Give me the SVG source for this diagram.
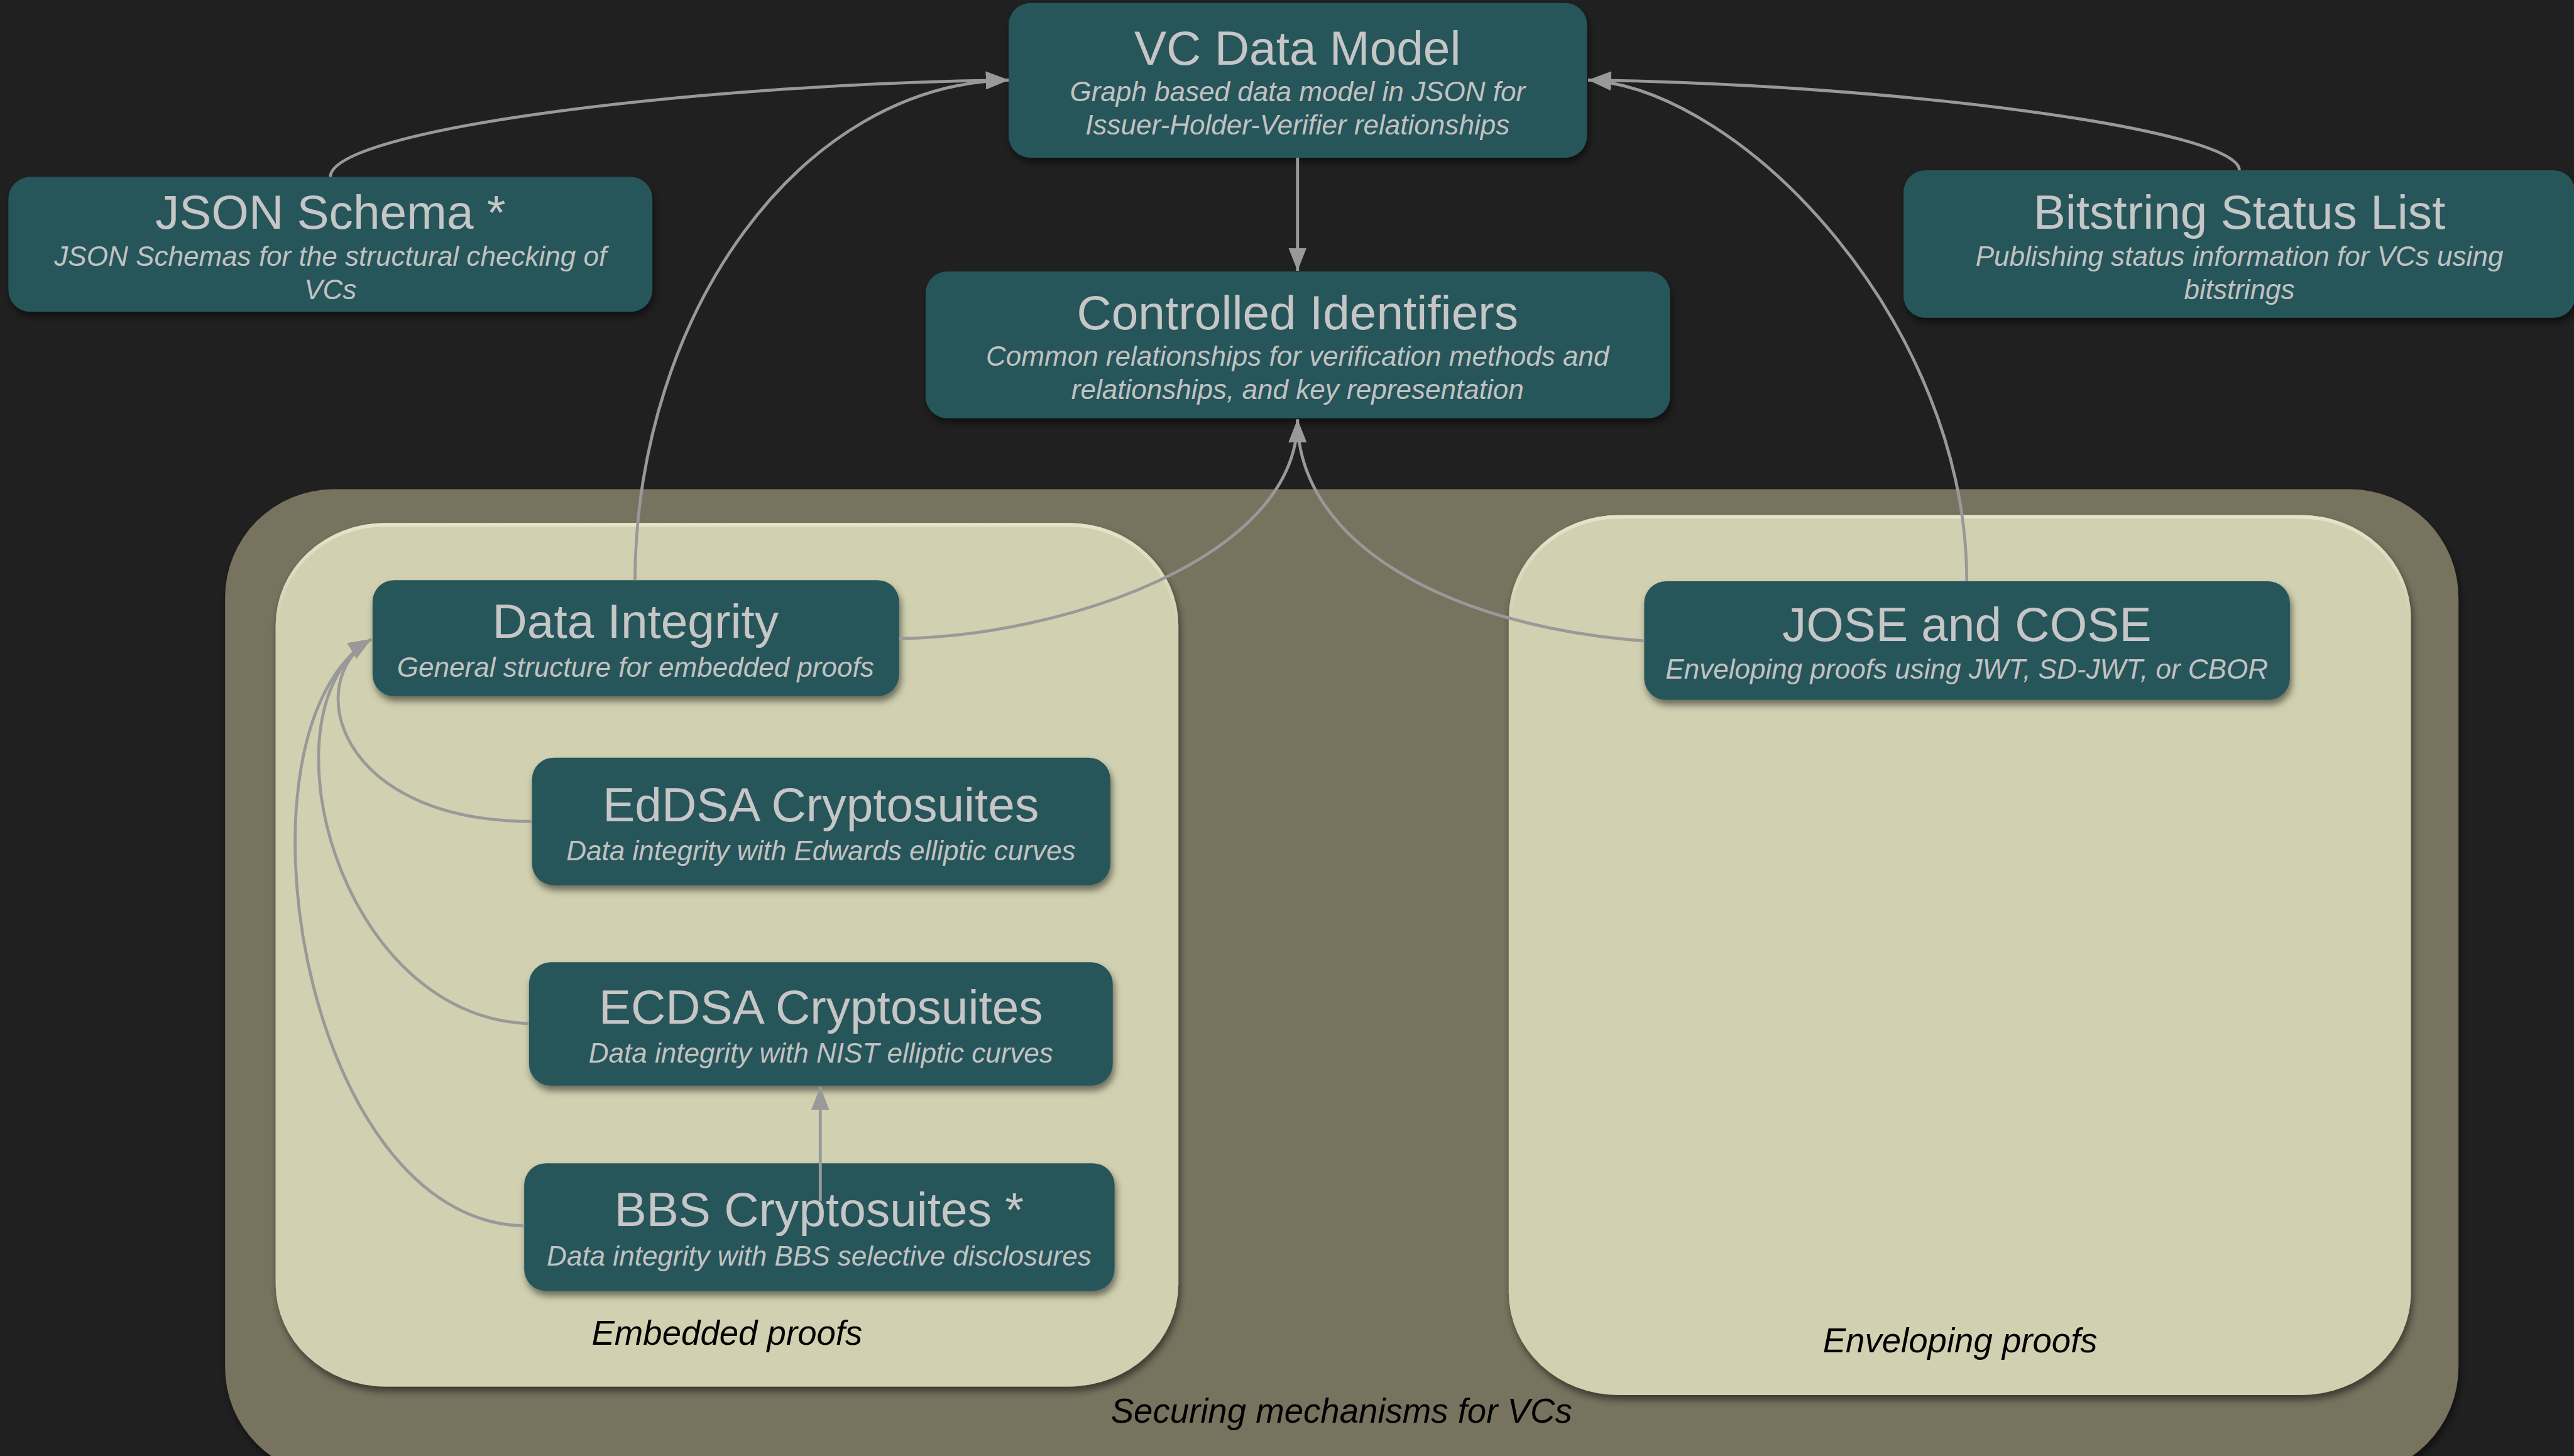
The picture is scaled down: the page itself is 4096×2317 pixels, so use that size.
<svg xmlns="http://www.w3.org/2000/svg" width="4096" height="2317" viewBox="0 0 4096 2317">
  <style>
    .box { fill: #26555a; filter: url(#shadow); }
    .area-outer { fill: #78735f; filter: url(#shadow); }
    .area-inner { fill: #d1d1b1; filter: url(#shadow); }
    .rim { fill: none; stroke: url(#rim); stroke-width: 6; }
    .title { font-family: "Liberation Sans", Arial, sans-serif; font-size: 80px; fill: #c6c6c6; text-anchor: middle; }
    .sub { font-family: "Liberation Sans", Arial, sans-serif; font-size: 46px; font-style: italic; fill: #c2c2c2; text-anchor: middle; }
    .label { font-family: "Liberation Sans", Arial, sans-serif; font-size: 57px; font-style: italic; fill: #000000; text-anchor: middle; }
    .edge { fill: none; stroke: #999999; stroke-width: 5; marker-end: url(#arrow); }
  </style>
  <defs>
    <filter id="shadow" x="-10%" y="-10%" width="125%" height="135%">
      <feDropShadow dx="3" dy="8" stdDeviation="6" flood-color="#000000" flood-opacity="0.5"/>
    </filter>
    <!-- light bevel along the top of the proof areas -->
    <linearGradient id="rim" x1="0" y1="0" x2="0" y2="1">
      <stop offset="0" stop-color="#e4e4ca" stop-opacity="1"/>
      <stop offset="0.12" stop-color="#e4e4ca" stop-opacity="0"/>
    </linearGradient>
    <marker id="arrow" viewBox="0 0 38 30" refX="38" refY="15" markerWidth="38" markerHeight="30" markerUnits="userSpaceOnUse" orient="auto">
      <path d="M0,0 L38,15 L0,30 Z" fill="#999999"/>
    </marker>
  </defs>

  <rect x="0" y="0" width="4096" height="2317" fill="#202020"/>

  <g transform="scale(0.95768)">
    <!-- grouping areas -->
    <g id="securing-mechanisms">
      <rect class="area-outer" x="374" y="813" width="3711" height="1639" rx="180" ry="180"/>
      <text class="label" x="2229" y="2364">Securing mechanisms for VCs</text>
    </g>
    <g id="embedded-proofs">
      <rect class="area-inner" x="458" y="869" width="1500" height="1435" rx="182" ry="170"/>
      <rect class="rim" x="461" y="872" width="1494" height="1429" rx="179" ry="167"/>
      <text class="label" x="1208" y="2235">Embedded proofs</text>
    </g>
    <g id="enveloping-proofs">
      <rect class="area-inner" x="2507" y="856" width="1499" height="1462" rx="182" ry="170"/>
      <rect class="rim" x="2510" y="859" width="1493" height="1456" rx="179" ry="167"/>
      <text class="label" x="3257" y="2247">Enveloping proofs</text>
    </g>

    <!-- specification nodes -->
    <g id="vc-data-model">
      <rect class="box" x="1676" y="5" width="961" height="257" rx="36"/>
      <text class="title" x="2156" y="108">VC Data Model</text>
      <text class="sub" x="2156" y="168">Graph based data model in JSON for</text>
      <text class="sub" x="2156" y="223">Issuer-Holder-Verifier relationships</text>
    </g>
    <g id="json-schema">
      <rect class="box" x="14" y="294" width="1070" height="224" rx="36"/>
      <text class="title" x="549" y="380">JSON Schema *</text>
      <text class="sub" x="549" y="442">JSON Schemas for the structural checking of</text>
      <text class="sub" x="549" y="497">VCs</text>
    </g>
    <g id="bitstring-status-list">
      <rect class="box" x="3163" y="283" width="1116" height="245" rx="36"/>
      <text class="title" x="3721" y="380">Bitstring Status List</text>
      <text class="sub" x="3721" y="442">Publishing status information for VCs using</text>
      <text class="sub" x="3721" y="497">bitstrings</text>
    </g>
    <g id="controlled-identifiers">
      <rect class="box" x="1538" y="451" width="1237" height="244" rx="36"/>
      <text class="title" x="2156" y="547">Controlled Identifiers</text>
      <text class="sub" x="2156" y="608">Common relationships for verification methods and</text>
      <text class="sub" x="2156" y="663">relationships, and key representation</text>
    </g>
    <g id="data-integrity">
      <rect class="box" x="619" y="964" width="875" height="193" rx="36"/>
      <text class="title" x="1056" y="1060">Data Integrity</text>
      <text class="sub" x="1056" y="1125">General structure for embedded proofs</text>
    </g>
    <g id="eddsa-cryptosuites">
      <rect class="box" x="884" y="1259" width="961" height="212" rx="36"/>
      <text class="title" x="1364" y="1365">EdDSA Cryptosuites</text>
      <text class="sub" x="1364" y="1429">Data integrity with Edwards elliptic curves</text>
    </g>
    <g id="ecdsa-cryptosuites">
      <rect class="box" x="879" y="1599" width="970" height="205" rx="36"/>
      <text class="title" x="1364" y="1701">ECDSA Cryptosuites</text>
      <text class="sub" x="1364" y="1766">Data integrity with NIST elliptic curves</text>
    </g>
    <g id="bbs-cryptosuites">
      <rect class="box" x="871" y="1933" width="981" height="212" rx="36"/>
      <text class="title" x="1361" y="2037">BBS Cryptosuites *</text>
      <text class="sub" x="1361" y="2103">Data integrity with BBS selective disclosures</text>
    </g>
    <g id="jose-cose">
      <rect class="box" x="2732" y="966" width="1073" height="197" rx="36"/>
      <text class="title" x="3268" y="1065">JOSE and COSE</text>
      <text class="sub" x="3268" y="1128">Enveloping proofs using JWT, SD-JWT, or CBOR</text>
    </g>

    <!-- dependency connectors -->
    <g id="connectors">
      <path class="edge" d="M549,294 C549,215 1150,140 1676,133"/>
      <path class="edge" d="M3721,283 C3721,215 3150,140 2639,133"/>
      <path class="edge" d="M1055,964 C1058,520 1330,140 1676,133"/>
      <path class="edge" d="M3268,966 C3268,540 2900,150 2639,133"/>
      <path class="edge" d="M2156,262 L2156,450"/>
      <path class="edge" d="M1494,1061 C1760,1058 2156,930 2156,697"/>
      <path class="edge" d="M2732,1065 C2400,1040 2156,900 2156,697"/>
      <path class="edge" d="M884,1365 C560,1365 500,1132 617,1062"/>
      <path class="edge" d="M879,1701 C560,1690 427,1176 617,1062"/>
      <path class="edge" d="M871,2037 C500,2030 370,1210 617,1062"/>
      <path class="edge" d="M1363,1996 L1363,1806"/>
    </g>
  </g>
</svg>
